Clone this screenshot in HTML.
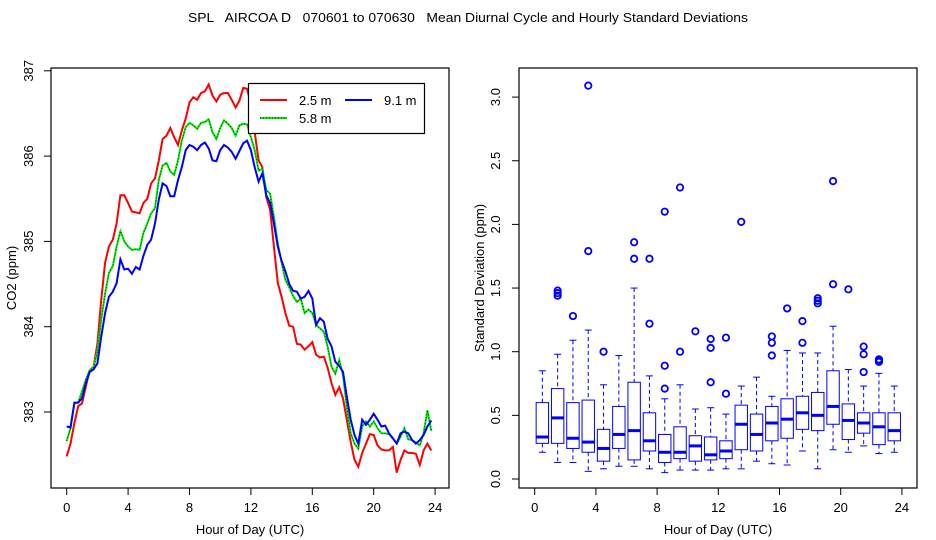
<!DOCTYPE html>
<html><head><meta charset="utf-8"><style>
html,body{margin:0;padding:0;background:#fff;}
svg{display:block;font-family:"Liberation Sans",sans-serif;}
</style></head><body>
<svg id="s" width="936" height="540" viewBox="0 0 936 540">
<text x="468" y="22" text-anchor="middle" font-size="12.5" textLength="560" lengthAdjust="spacingAndGlyphs" xml:space="preserve">SPL   AIRCOA D   070601 to 070630   Mean Diurnal Cycle and Hourly Standard Deviations</text>
</svg>
<script>
// ---- Left panel data (15-min steps) ----
const hours = [];
for (let i = 0; i < 96; i++) hours.push(i * 0.25);
const red25 = [382.48,382.63,382.87,383.07,383.10,383.30,383.49,383.53,383.80,384.31,384.75,384.94,385.02,385.21,385.54,385.54,385.45,385.35,385.34,385.33,385.45,385.50,385.68,385.74,385.95,386.20,386.24,386.33,386.22,386.13,386.30,386.44,386.63,386.69,386.66,386.74,386.76,386.84,386.71,386.64,386.72,386.74,386.74,386.66,386.57,386.65,386.80,386.79,386.61,386.28,385.95,385.87,385.52,385.37,384.94,384.51,384.35,384.16,384.01,384.00,383.80,383.79,383.73,383.77,383.82,383.67,383.64,383.65,383.52,383.34,383.20,383.29,383.16,382.91,382.65,382.44,382.36,382.52,382.63,382.74,382.73,382.61,382.56,382.55,382.55,382.59,382.29,382.44,382.55,382.52,382.52,382.51,382.38,382.55,382.63,382.55];
const green58 = [382.66,382.81,383.10,383.11,383.24,383.38,383.49,383.52,383.71,384.08,384.39,384.63,384.71,384.94,385.12,385.00,384.94,384.90,384.91,384.90,385.10,385.21,385.33,385.39,385.72,385.89,385.92,385.82,385.78,385.95,386.18,386.34,386.39,386.36,386.32,386.39,386.40,386.43,386.28,386.20,386.33,386.42,386.38,386.33,386.24,386.36,386.38,386.37,386.22,386.07,385.83,385.85,385.60,385.56,385.29,384.98,384.75,384.55,384.46,384.36,384.29,384.33,384.16,384.20,384.16,384.02,383.98,383.94,383.77,383.53,383.45,383.61,383.43,383.06,382.75,382.63,382.57,382.83,382.89,382.83,382.89,382.81,382.75,382.75,382.74,382.69,382.63,382.71,382.81,382.68,382.67,382.64,382.61,382.75,383.02,382.78];
const blue91 = [382.83,382.82,383.11,383.11,383.16,383.34,383.47,383.50,383.57,383.88,384.16,384.35,384.41,384.51,384.79,384.67,384.68,384.62,384.70,384.67,384.83,384.96,385.02,385.21,385.49,385.68,385.65,385.53,385.53,385.72,385.87,386.07,386.13,386.11,386.07,386.13,386.16,386.09,385.95,385.94,386.07,386.13,386.10,386.05,385.97,386.06,386.15,386.18,386.07,385.87,385.70,385.80,385.54,385.45,385.21,384.94,384.77,384.65,384.50,384.42,384.41,384.33,384.35,384.42,384.33,384.02,384.10,384.06,383.86,383.77,383.59,383.54,383.47,383.18,382.91,382.73,382.63,382.91,382.85,382.91,382.98,382.91,382.83,382.84,382.75,382.69,382.63,382.75,382.77,382.75,382.67,382.63,382.67,382.73,382.83,382.90];
const leftYTicks = [383,384,385,386,387];
const xTicks = [0,4,8,12,16,20,24];
// ---- Right panel data (hourly boxes) ----
const boxHours = [];
for (let i = 0; i < 24; i++) boxHours.push(i + 0.5);
const whiskLo = [0.21,0.13,0.13,0.06,0.08,0.10,0.10,0.08,0.05,0.07,0.07,0.07,0.08,0.08,0.14,0.12,0.11,0.22,0.08,0.23,0.21,0.26,0.20,0.21];
const q1 =      [0.28,0.28,0.24,0.21,0.14,0.24,0.15,0.22,0.13,0.16,0.14,0.15,0.16,0.23,0.22,0.30,0.32,0.39,0.38,0.43,0.31,0.36,0.27,0.30];
const med =     [0.33,0.48,0.32,0.29,0.24,0.35,0.38,0.30,0.21,0.21,0.26,0.19,0.22,0.43,0.35,0.44,0.47,0.52,0.50,0.57,0.46,0.44,0.41,0.38];
const q3 =      [0.60,0.71,0.60,0.62,0.39,0.57,0.76,0.52,0.35,0.41,0.34,0.33,0.30,0.58,0.51,0.57,0.63,0.65,0.68,0.85,0.59,0.52,0.52,0.52];
const whiskHi = [0.85,0.98,1.09,1.17,0.74,0.97,1.50,0.81,0.63,0.74,0.55,0.56,0.51,0.73,0.80,0.65,1.01,0.99,0.99,1.20,0.86,0.73,0.83,0.73];
const outliers = [[],[1.44,1.46,1.48],[1.28],[1.79,3.09],[1.0],[],[1.73,1.86],[1.22,1.73],[0.71,0.89,2.10],[1.00,2.29],[1.16],[0.76,1.03,1.10],[0.67,1.11],[2.02],[],[0.97,1.07,1.12],[1.34],[1.07,1.24],[1.38,1.40,1.42],[1.53,2.34],[1.49],[0.84,0.98,1.04],[0.92,0.93,0.94],[]];
const rightYTicks = [0,0.5,1,1.5,2,2.5,3];
const rightYLabels = ["0.0","0.5","1.0","1.5","2.0","2.5","3.0"];

const NS = "http://www.w3.org/2000/svg";
const svg = document.getElementById('s');
function mk(tag, attrs, parent) {
  const e = document.createElementNS(NS, tag);
  for (const k in attrs) e.setAttribute(k, attrs[k]);
  (parent || svg).appendChild(e);
  return e;
}
// axis functions
const lx = h => 66.7 + h * 15.35;
const ly = v => 412 - (v - 383) * 85.3;
const rx = h => 534.7 + h * 15.3;
const ry = v => 479 - v * 127.3;

// ----- Left panel -----
const L = mk('g', {});


function linePath(arr) {
  return arr.map((v, i) => (i ? 'L' : 'M') + lx(hours[i]).toFixed(1) + ',' + ly(v).toFixed(1)).join(' ');
}
let p = mk('path', {d: linePath(red25), fill: 'none', stroke: '#ff0000', 'stroke-width': 2}, L);


p = mk('path', {d: linePath(green58), fill: 'none', stroke: '#00ee00', 'stroke-width': 2}, L);


p = mk('path', {d: linePath(green58), fill: 'none', stroke: '#000', 'stroke-width': 0.7, 'stroke-dasharray': '1 2'}, L);


p = mk('path', {d: linePath(blue91), fill: 'none', stroke: '#0000ff', 'stroke-width': 2}, L);


let f = mk('rect', {x: 51, y: 68, width: 398, height: 420, fill: 'none', stroke: '#000', 'stroke-width': 1.2}, L);


leftYTicks.forEach(v => {
  const y = ly(v);
  mk('line', {x1: 44, x2: 51, y1: y, y2: y, stroke: '#000'}, L);
  const t = mk('text', {x: 33, y: y, 'font-size': 13, 'text-anchor': 'middle', transform: `rotate(-90 33 ${y})`}, L);
  
  
  t.textContent = v;
});
xTicks.forEach(h => {
  const x = lx(h);
  mk('line', {x1: x, x2: x, y1: 488, y2: 495, stroke: '#000'}, L);
  const t = mk('text', {x: x, y: 512, 'font-size': 13, 'text-anchor': 'middle'}, L);
  
  
  t.textContent = h;
});
let t = mk('text', {x: 250, y: 534, 'font-size': 13, 'text-anchor': 'middle'}, L);


t.textContent = 'Hour of Day (UTC)';
t = mk('text', {x: 16, y: 278, 'font-size': 13, 'text-anchor': 'middle', transform: 'rotate(-90 16 278)'}, L);


t.textContent = 'CO2 (ppm)';
// legend
const G = mk('g', {}, L);


mk('rect', {x: 248.5, y: 83.5, width: 176, height: 50, fill: '#fff', stroke: '#000', 'stroke-width': 1.2}, G);
mk('line', {x1: 260, x2: 287, y1: 100, y2: 100, stroke: '#ff0000', 'stroke-width': 2}, G);
mk('line', {x1: 345, x2: 372, y1: 100, y2: 100, stroke: '#0000ff', 'stroke-width': 2}, G);
mk('line', {x1: 260, x2: 287, y1: 118, y2: 118, stroke: '#00ee00', 'stroke-width': 2}, G);
mk('line', {x1: 260, x2: 287, y1: 118, y2: 118, stroke: '#000', 'stroke-width': 0.7, 'stroke-dasharray': '1 2'}, G);
[['2.5 m', 299, 105], ['9.1 m', 384, 105], ['5.8 m', 299, 123]].forEach(a => {
  const e = mk('text', {x: a[1], y: a[2], 'font-size': 13}, G);
  
  
  e.textContent = a[0];
});

// ----- Right panel -----
const R = mk('g', {});


const bw = 12.4;
boxHours.forEach((h, i) => {
  const x = rx(h);
  const b = mk('g', {}, R);
  
  
  mk('line', {x1: x, x2: x, y1: ry(whiskHi[i]), y2: ry(q3[i]), stroke: '#0000ff', 'stroke-dasharray': '4 3'}, b);
  mk('line', {x1: x, x2: x, y1: ry(q1[i]), y2: ry(whiskLo[i]), stroke: '#0000ff', 'stroke-dasharray': '4 3'}, b);
  mk('line', {x1: x - 3.5, x2: x + 3.5, y1: ry(whiskHi[i]), y2: ry(whiskHi[i]), stroke: '#0000ff'}, b);
  mk('line', {x1: x - 3.5, x2: x + 3.5, y1: ry(whiskLo[i]), y2: ry(whiskLo[i]), stroke: '#0000ff'}, b);
  mk('rect', {x: x - bw / 2, y: ry(q3[i]), width: bw, height: ry(q1[i]) - ry(q3[i]), fill: 'none', stroke: '#0000ff', 'stroke-width': 1}, b);
  mk('line', {x1: x - bw / 2, x2: x + bw / 2, y1: ry(med[i]), y2: ry(med[i]), stroke: '#0000ff', 'stroke-width': 3}, b);
  outliers[i].forEach(v => {
    const c = mk('circle', {cx: x, cy: ry(v), r: 3.2, fill: 'none', stroke: '#0000ff', 'stroke-width': 1.8}, b);
    
    
  });
});
f = mk('rect', {x: 519, y: 68, width: 398, height: 420, fill: 'none', stroke: '#000', 'stroke-width': 1.2}, R);


rightYTicks.forEach((v, i) => {
  const y = ry(v);
  mk('line', {x1: 512, x2: 519, y1: y, y2: y, stroke: '#000'}, R);
  const e = mk('text', {x: 500, y: y, 'font-size': 13, 'text-anchor': 'middle', transform: `rotate(-90 500 ${y})`}, R);
  
  
  e.textContent = rightYLabels[i];
});
xTicks.forEach(h => {
  const x = rx(h);
  mk('line', {x1: x, x2: x, y1: 488, y2: 495, stroke: '#000'}, R);
  const e = mk('text', {x: x, y: 512, 'font-size': 13, 'text-anchor': 'middle'}, R);
  
  
  e.textContent = h;
});
t = mk('text', {x: 718, y: 534, 'font-size': 13, 'text-anchor': 'middle'}, R);


t.textContent = 'Hour of Day (UTC)';
t = mk('text', {x: 484, y: 278, 'font-size': 13, 'text-anchor': 'middle', transform: 'rotate(-90 484 278)'}, R);


t.textContent = 'Standard Deviation (ppm)';
</script>
</body></html>
